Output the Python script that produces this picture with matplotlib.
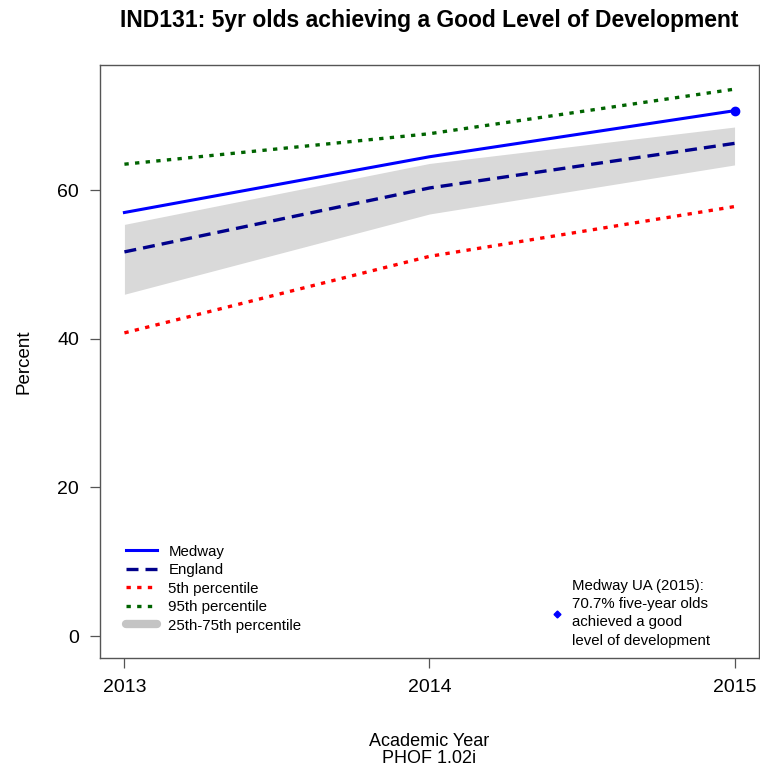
import matplotlib.pyplot as plt
from matplotlib.lines import Line2D
import numpy as np

plt.rcParams['font.family'] = ['Liberation Sans', 'DejaVu Sans']

# 数据
years = [2013, 2014, 2015]
medway = [57.0, 64.5, 70.7]
england = [51.7, 60.3, 66.3]
pct5 = [40.8, 51.1, 57.8]
pct95 = [63.5, 67.6, 73.6]
pct25 = [46.0, 56.8, 63.4]
pct75 = [55.4, 63.6, 68.5]

dot = (0, (1.3, 1.9))
dash = (0, (3.6, 2.1))

fig = plt.figure(figsize=(7.6, 7.69), dpi=100)
ax = fig.add_axes([0.1316, 0.1443, 0.867, 0.7712])

# 25-75 区间
ax.fill_between(years, pct25, pct75, color='#d9d9d9', linewidth=0, zorder=1)

ax.plot(years, pct95, color='#006400', linestyle=dot, linewidth=2.4, zorder=2)
ax.plot(years, pct5, color='#ff0000', linestyle=dot, linewidth=2.4, zorder=2)
ax.plot(years, england, color='#00008b', linestyle=dash, linewidth=2.4, zorder=3)
ax.plot(years, medway, color='#0000ff', linewidth=2.2, zorder=4)
ax.plot(years[-1], medway[-1], 'o', color='#0000ff', markersize=6, zorder=5)

ax.set_xlim(2012.92, 2015.08)
ax.set_ylim(-2.95, 76.85)
ax.set_xticks(years)
ax.set_yticks([0, 20, 40, 60])
ax.tick_params(direction='out', length=7, width=0.9, color='#555555',
               labelsize=14, pad=8)
for s in ax.spines.values():
    s.set_color('#555555')
    s.set_linewidth(1.0)

ax.set_ylabel('Percent', fontsize=13.5, labelpad=18)
ax.set_xlabel('Academic Year\nPHOF 1.02i', fontsize=13, labelpad=27,
              linespacing=0.95)
fig.text(0.565, 0.973, 'IND131: 5yr olds achieving a Good Level of Development',
         ha='center', va='center', fontsize=16.5, fontweight='bold')

# 图例
handles = [
    Line2D([], [], color='#0000ff', linewidth=2.2),
    Line2D([], [], color='#00008b', linestyle=dash, linewidth=2.4),
    Line2D([], [], color='#ff0000', linestyle=dot, linewidth=2.4),
    Line2D([], [], color='#006400', linestyle=dot, linewidth=2.4),
    Line2D([], [], color='#c4c4c4', linewidth=6, solid_capstyle='round'),
]
labels = ['Medway', 'England', '5th percentile', '95th percentile', '25th-75th percentile']
leg = ax.legend(handles, labels, loc='lower left', bbox_to_anchor=(0.0, 0.0),
                frameon=False, fontsize=10.8, handlelength=2.1, handletextpad=0.75,
                labelspacing=0.3, borderaxespad=1.3)
ax.add_artist(leg)

note = 'Medway UA (2015):\n70.7% five-year olds\nachieved a good\nlevel of development'
ax.legend([Line2D([], [], color='#0000ff', marker='D', markersize=3.5, linestyle='none')],
          [note], loc='lower right', bbox_to_anchor=(0.935, 0.007), frameon=False,
          fontsize=10.8, handlelength=0.6, handletextpad=0.7, borderaxespad=0.0)
for t in ax.get_legend().get_texts():
    t.set_linespacing(1.4)

fig.savefig('out.png', dpi=100)
